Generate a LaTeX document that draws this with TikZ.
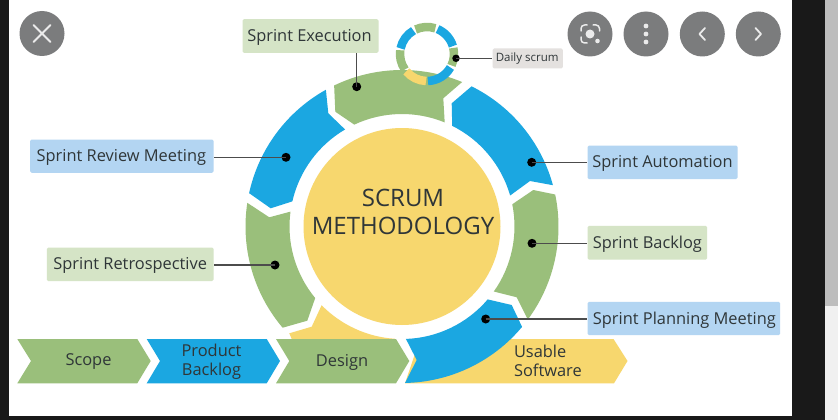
\documentclass[tikz,border=0pt]{standalone}
\usepackage{fontspec}
\usetikzlibrary{calc}
\setmainfont{Open Sans}
\definecolor{sgreen}{HTML}{9ABF7B}
\definecolor{sblue}{HTML}{1BA7E1}
\definecolor{syellow}{HTML}{F7D76E}
\definecolor{lgreen}{HTML}{D5E4C6}
\definecolor{lblue}{HTML}{B3D5F2}
\definecolor{lgrey}{HTML}{E4E1DF}
\definecolor{ink}{HTML}{2F3638}
\definecolor{btn}{HTML}{7B7C7D}
\newcommand{\RO}{156.5}
\newcommand{\RI}{112.5}
\tikzset{
  x=1pt,y=-1pt,
  greenseg/.style={fill=sgreen},
  blueseg/.style={fill=sblue},
  yellowseg/.style={fill=syellow},
  label box/.style={rounded corners=1.5pt,anchor=north west,inner sep=0pt},
  label text/.style={text=ink,font=\fontsize{16.4}{18}\selectfont,yshift=-1.5pt},
  leader/.style={draw=black!70,line width=1.4pt},
  spot/.style={circle,fill=black,inner sep=0pt,minimum size=9pt},
  chevtext/.style={text=ink,align=center,font=\fontsize{16.4}{19.5}\selectfont},
  smallseg/.style={line width=8.5pt},
  overbtn/.style={circle,fill=btn,inner sep=0pt,minimum size=45pt},
  glyph/.style={draw=white!92!black,line width=1.8pt,line cap=round,line join=round}
}
\begin{document}
\begin{tikzpicture}
\useasboundingbox (0,0) rectangle (838,420);
% page background
\fill[black!90!white] (0,0) rectangle (838,420);
\fill[white] (9,0) rectangle (792,416);
\fill[black!6] (825,0) rectangle (838,420);
\fill[black!26] (825,0) rectangle (838,306);
\coordinate (c) at (402,226.5);
% bottom chevrons and yellow parts
\fill[yellowseg] (c)++(135.6:\RI) arc[start angle=135.6,end angle=93.6,radius=\RI] -- (291.7,339) -- (289.3,333.3) -- (311.7,326.7) -- cycle;
\fill[yellowseg] (420,339) -- (613.5,339) -- (627.5,361) -- (614,383.3) -- (405,383.3) -- cycle;
\fill[greenseg] (17.3,339) -- (137.3,339) -- (150.7,361) -- (137.3,383.3) -- (17.3,383.3) -- (31,361) -- cycle;
\fill[blueseg] (146.7,339) -- (266.7,339) -- (280,361) -- (266.7,383.3) -- (146.7,383.3) -- (160,361) -- cycle;
\fill[greenseg] (276,339) -- (396,339) -- (409.3,361) -- (396,383.3) -- (276,383.3) -- (289.3,361) -- cycle;
% central circle
\node[circle,fill=syellow,minimum size=197pt,inner sep=0pt] (core) at (c) {};
% ring
\fill[greenseg] (c)++(-115.7:\RO) arc[start angle=-115.7,end angle=-67.4,radius=\RO] -- (443.3,98.3) -- ($(c)+(-67.7:\RI)$) arc[start angle=-67.7,end angle=-115.1,radius=\RI] -- (335.3,111.7) -- cycle;
\fill[blueseg] (c)++(-63.6:\RO) arc[start angle=-63.6,end angle=-15.3,radius=\RO] -- (530,181) -- ($(c)+(-16:\RI)$) arc[start angle=-16,end angle=-63.5,radius=\RI] -- (451.7,103.3) -- cycle;
\fill[greenseg] (c)++(-11.8:\RO) arc[start angle=-11.8,end angle=36.5,radius=\RO] -- (516.7,297.3) -- ($(c)+(35.3:\RI)$) arc[start angle=35.3,end angle=-11.4,radius=\RI] -- (533.3,190) -- cycle;
\fill[blueseg] (c)++(39.9:\RO) arc[start angle=39.9,end angle=88.9,radius=\RO] -- (416.7,360) -- ($(c)+(88:\RI)$) arc[start angle=88,end angle=40.4,radius=\RI] -- (511.7,305) -- cycle;
\fill[greenseg] (c)++(139.7:\RO) arc[start angle=139.7,end angle=188.7,radius=\RO] -- (269.3,217.3) -- ($(c)+(187.6:\RI)$) arc[start angle=187.6,end angle=140.5,radius=\RI] -- (307.3,320.7) -- cycle;
\fill[blueseg] (c)++(192.3:\RO) arc[start angle=192.3,end angle=240.9,radius=\RO] -- (328.3,113.3) -- ($(c)+(239.6:\RI)$) arc[start angle=239.6,end angle=192.9,radius=\RI] -- (270.7,208.3) -- cycle;
% small daily ring
\coordinate (d) at (427,54);
\draw[smallseg,sgreen] (d)++(-115:27) arc[start angle=-115,end angle=-72,radius=27];
\draw[smallseg,sblue] (d)++(-67:27) arc[start angle=-67,end angle=-17,radius=27];
\draw[smallseg,sgreen] (d)++(-13:27) arc[start angle=-13,end angle=25,radius=27];
\draw[smallseg,sblue] (d)++(30:27) arc[start angle=30,end angle=88,radius=27];
\draw[smallseg,syellow] (d)++(92:27) arc[start angle=92,end angle=140,radius=27];
\draw[smallseg,sgreen] (d)++(145:27) arc[start angle=145,end angle=188,radius=27];
\draw[smallseg,sblue] (d)++(192:27) arc[start angle=192,end angle=240,radius=27];
% centre title
\node[text=ink,align=center,font=\fontsize{24}{27.5}\selectfont] (title) at (403,212) {SCRUM\\METHODOLOGY};
% labels
\node[label box,fill=lgreen,minimum width=136pt,minimum height=33.7pt] (exec) at (242.3,19) {};
\node[label text,xshift=-1pt] at (exec.center) {Sprint Execution};
\node[label box,fill=lgrey,minimum width=70.4pt,minimum height=20pt] (daily) at (492.3,48.3) {};
\node[text=ink,font=\fontsize{11.5}{13}\selectfont,xshift=-0.5pt,yshift=-0.5pt] at (daily.center) {Daily scrum};
\node[label box,fill=lblue,minimum width=150pt,minimum height=33.7pt] (auto) at (587.3,145.3) {};
\node[label text] at (auto.center) {Sprint Automation};
\node[label box,fill=lgreen,minimum width=119.7pt,minimum height=33.7pt] (back) at (587.3,225.7) {};
\node[label text] at (back.center) {Sprint Backlog};
\node[label box,fill=lblue,minimum width=192.7pt,minimum height=33.3pt] (plan) at (587.3,301.7) {};
\node[label text,xshift=0.5pt] at (plan.center) {Sprint Planning Meeting};
\node[label box,fill=lblue,minimum width=183.3pt,minimum height=33.4pt] (review) at (30,139.3) {};
\node[label text,xshift=-0.5pt] at (review.center) {Sprint Review Meeting};
\node[label box,fill=lgreen,minimum width=166.6pt,minimum height=33.7pt] (retro) at (46.7,247.3) {};
\node[label text] at (retro.center) {Sprint Retrospective};
% dots
\node[spot] (dexec) at (356.7,86.7) {};
\node[spot,minimum size=7.5pt] (ddaily) at (456,58.3) {};
\node[spot] (dauto) at (531.7,162.3) {};
\node[spot] (dback) at (532,243.3) {};
\node[spot] (dplan) at (485.7,319) {};
\node[spot] (dreview) at (286,157.3) {};
\node[spot] (dretro) at (275,265) {};
% leaders
\draw[leader] (dexec.center) -- (dexec.center |- exec.south);
\draw[leader] (ddaily.center) -- (ddaily.center -| daily.west);
\draw[leader] (dauto.center) -- (dauto.center -| auto.west);
\draw[leader] (dback.center) -- (dback.center -| back.west);
\draw[leader] (dplan.center) -- (dplan.center -| plan.west);
\draw[leader] (dreview.center) -- (dreview.center -| review.east);
\draw[leader] (dretro.center) -- (dretro.center -| retro.east);
% chevron text
\node[chevtext] (scope) at (88.5,362) {Scope};
\node[chevtext] (pb) at (211.5,361.5) {Product\\Backlog};
\node[chevtext] (design) at (342,362) {Design};
\node[chevtext,align=left,anchor=west] (usable) at (510.5,361) {Usable\\Software};
% overlay buttons
\node[overbtn] (bx) at (42,33.5) {};
\draw[glyph,line width=2pt] (33.5,25) -- (50.5,42) (50.5,25) -- (33.5,42);
\node[overbtn] (blens) at (590,34) {};
\fill[white!92!black] (590,34) circle (4.5);
\fill[white!92!black] (597.5,41) circle (2.3);
\draw[glyph,line width=1.5pt] (581,31) -- (581,28.5) arc[start angle=180,end angle=270,radius=3.5] -- (587,25);
\draw[glyph,line width=1.5pt] (593,25) -- (596,25) arc[start angle=270,end angle=360,radius=3.5] -- (599.5,31);
\draw[glyph,line width=1.5pt] (581,37) -- (581,39.5) arc[start angle=180,end angle=90,radius=3.5] -- (587,43);
\node[overbtn] (bmore) at (646,34) {};
\fill[white!92!black] (646,26) circle (2.4) (646,34) circle (2.4) (646,42) circle (2.4);
\node[overbtn] (bprev) at (702.3,34) {};
\draw[glyph] (705,28) -- (699.5,34) -- (705,40);
\node[overbtn] (bnext) at (758.3,34) {};
\draw[glyph] (755.5,28) -- (761,34) -- (755.5,40);
\end{tikzpicture}
\end{document}
